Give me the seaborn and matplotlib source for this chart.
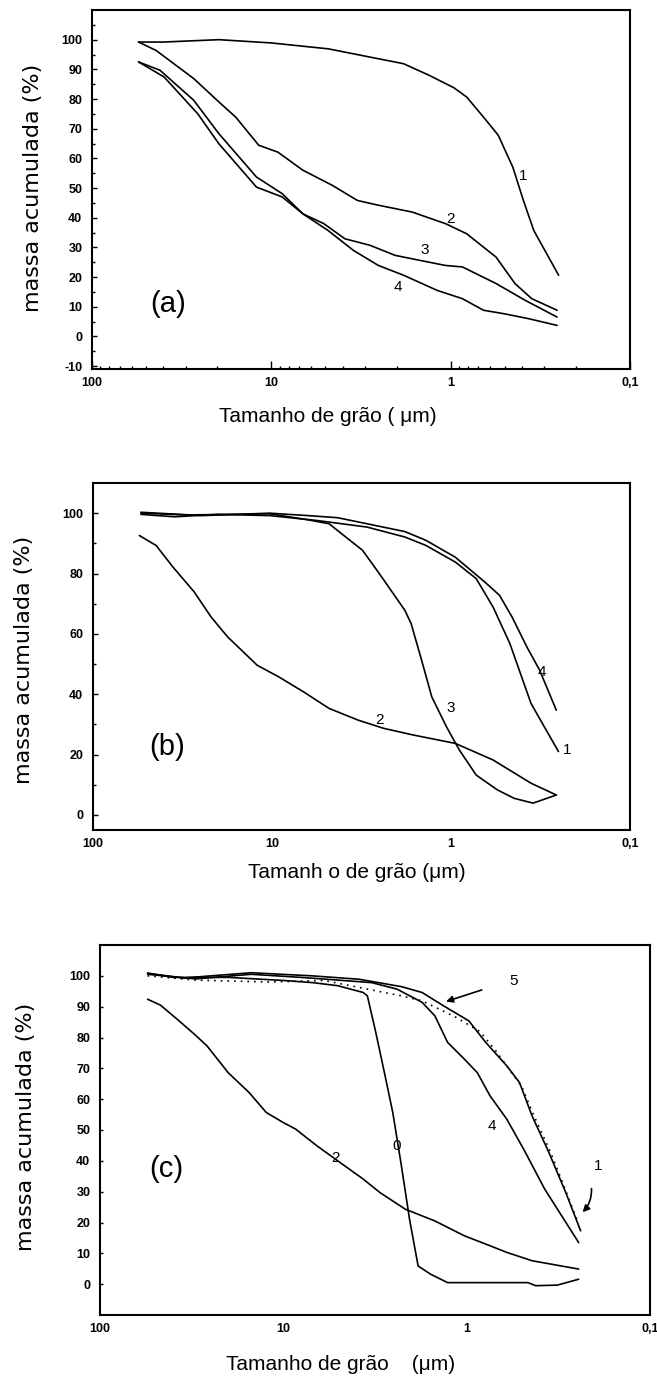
import numpy as np
import pandas as pd
import matplotlib
matplotlib.use("Agg")
import matplotlib.pyplot as plt
from matplotlib.ticker import FixedLocator, NullLocator, LogLocator
import seaborn as sns

# ---- panel (a) ----
a1_x = [55, 40, 19.6, 10, 4.8, 2.97, 1.83, 1.32, 0.96, 0.815, 0.656, 0.543, 0.45, 0.393, 0.344, 0.25]
a1_y = [99.2, 99.2, 100, 98.9, 96.9, 94.4, 91.9, 88, 83.8, 80.7, 73.9, 67.8, 57, 45.8, 35.7, 20.6]
a2_x = [55, 44, 27.1, 19.6, 15.8, 11.75, 9.2, 6.67, 4.57, 3.31, 2.53, 1.64, 1.07, 0.815, 0.558, 0.438, 0.353, 0.255]
a2_y = [99.2, 96.4, 86.9, 79, 73.9, 64.4, 62.1, 56, 50.9, 45.8, 44.2, 41.9, 38, 34.6, 26.7, 17.8, 12.7, 8.8]
a3_x = [55, 41.8, 27.1, 19.6, 12.1, 8.7, 6.67, 5.1, 3.89, 2.82, 2.04, 1.48, 1.07, 0.86, 0.558, 0.383, 0.255]
a3_y = [92.5, 89.7, 79.6, 68.3, 53.7, 48.1, 41.3, 38, 32.9, 30.7, 27.3, 25.6, 23.9, 23.4, 17.8, 12.1, 6.5]
a4_x = [55, 39.6, 25.7, 19.6, 12.1, 8.7, 6.67, 4.83, 3.49, 2.53, 1.83, 1.19, 0.86, 0.656, 0.501, 0.37, 0.255]
a4_y = [92.5, 87.4, 75, 64.9, 50.3, 47, 41.3, 35.7, 29, 23.9, 20.6, 15.5, 12.7, 8.8, 7.6, 6, 3.7]
a_labels = ["1", "2", "3", "4"]
a_label_x = [0.393, 1.0, 1.4, 1.98]
a_label_y = [54, 39.7, 29, 16.6]

# ---- panel (b) ----
b1_x = [54, 35, 20, 10.3, 5.66, 2.95, 1.81, 1.38, 0.946, 0.723, 0.582, 0.469, 0.357, 0.251]
b1_y = [99.6, 98.8, 99.6, 99.2, 97.6, 95.4, 92.1, 89.3, 83.8, 78.3, 68.9, 56.8, 36.9, 21]
b2_x = [55.1, 44.4, 35.7, 27.2, 21.9, 17.7, 12.1, 9.2, 6.67, 4.8, 3.3, 2.38, 1.63, 0.946, 0.582, 0.357, 0.258]
b2_y = [92.6, 89.3, 82.1, 73.9, 65.6, 59, 49.6, 45.8, 40.8, 35.3, 31.4, 28.7, 26.5, 23.7, 18.2, 10.5, 6.6]
b3_x = [54, 30, 10.3, 6.3, 4.8, 3.67, 3.12, 2.51, 1.81, 1.67, 1.46, 1.28, 1.06, 0.898, 0.723, 0.551, 0.444, 0.348, 0.258]
b3_y = [100, 99.4, 99.8, 97.8, 96.5, 91, 87.7, 79.9, 67.8, 63.4, 51.3, 39.1, 29.2, 21.5, 13.2, 8.3, 5.5, 3.9, 6.6]
b4_x = [54, 24.4, 10.3, 6.3, 4.3, 2.95, 1.81, 1.38, 0.946, 0.648, 0.536, 0.456, 0.377, 0.32, 0.258]
b4_y = [100.3, 99.2, 100, 99.2, 98.5, 96.5, 93.9, 91, 85.4, 77.2, 72.8, 65.6, 55.7, 48, 34.7]
b_labels = ["4", "1", "3", "2"]
b_label_x = [0.312, 0.225, 1.0, 2.51]
b_label_y = [47.4, 21.5, 35.3, 31.4]

# ---- panel (c) ----
c0_x = [55, 40, 20, 10, 6.93, 5.05, 3.67, 3.48, 3.13, 2.81, 2.53, 2.27, 2.05, 1.84, 1.57, 1.27, 0.463, 0.42, 0.32, 0.245]
c0_y = [100.9, 99.5, 99.5, 98.5, 97.8, 96.8, 94.6, 93.5, 81.6, 68.6, 55.7, 38.4, 21.1, 5.9, 3.2, 0.5, 0.5, -0.5, -0.3, 1.6]
c1_x = [55, 35, 15, 7, 3.87, 2.27, 1.75, 1.34, 0.973, 0.787, 0.604, 0.515, 0.44, 0.356, 0.288, 0.239]
c1_y = [100.8, 99.3, 101, 100, 98.9, 96.5, 94.6, 90.3, 85.4, 78.4, 70.8, 65.4, 54.6, 42.7, 29.7, 17.3]
c2_x = [55, 46.8, 37.9, 30.6, 26.1, 20, 15.4, 12.4, 10, 8.57, 6.57, 5.05, 3.67, 2.97, 2.16, 1.49, 1.03, 0.787, 0.604, 0.44, 0.245]
c2_y = [92.4, 90.5, 85.9, 81.1, 77.3, 68.6, 62.2, 55.7, 52.4, 50.3, 44.9, 40, 34.1, 29.7, 24.3, 20.5, 15.7, 13, 10.3, 7.6, 4.9]
c4_x = [55, 30, 15, 8, 3.3, 2.4, 1.75, 1.49, 1.27, 1.03, 0.875, 0.746, 0.604, 0.489, 0.375, 0.245]
c4_y = [100.5, 99.0, 100.5, 99.5, 97.8, 95.7, 91.4, 87, 78.4, 73, 68.6, 61.1, 53.5, 43.8, 30.8, 13.5]
c5_x = [55, 30, 12, 6, 3.48, 2.27, 1.75, 1.14, 0.85, 0.7, 0.6, 0.5, 0.44, 0.35, 0.3, 0.245]
c5_y = [100, 98.6, 98, 98.5, 95.7, 93.5, 91.9, 86.5, 82, 76, 70.5, 64, 56, 43, 33, 19.5]
c_labels = ["4", "0", "2"]
c_label_x = [0.728, 2.4, 5.17]
c_label_y = [51.4, 44.9, 41]

x_ticks = [100, 10, 1, 0.1]
x_ticklabels = ["100", "10", "1", "0,1"]

sns.set_style("ticks")
plt.rcParams["font.family"] = ["Liberation Sans", "DejaVu Sans"]
plt.rcParams["text.color"] = "black"
plt.rcParams["axes.labelcolor"] = "black"
plt.rcParams["xtick.color"] = "black"
plt.rcParams["ytick.color"] = "black"

W, H = 657, 1380
fig = plt.figure(figsize=(W / 100, H / 100), dpi=100)


def make_axes(left, right, top, bottom):
    return fig.add_axes([left / W, 1 - bottom / H, (right - left) / W, (bottom - top) / H])


def draw_curve(ax, xs, ys, **kw):
    df = pd.DataFrame({"d": xs, "m": ys})
    sns.lineplot(data=df, x="d", y="m", ax=ax, sort=False, estimator=None,
                 color="black", linewidth=kw.pop("lw", 1.2), **kw)


def style_axes(ax, ylim, yticks, yminor, xtick_len, xminor):
    ax.set_xscale("log")
    ax.set_xlim(100, 0.1)
    ax.set_ylim(*ylim)
    ax.xaxis.set_major_locator(FixedLocator(x_ticks))
    ax.set_xticklabels(x_ticklabels)
    if xminor:
        ax.xaxis.set_minor_locator(LogLocator(base=10, subs=np.arange(2, 10)))
    else:
        ax.xaxis.set_minor_locator(NullLocator())
    ax.yaxis.set_major_locator(FixedLocator(yticks))
    ax.set_yticklabels([str(v) for v in yticks])
    if yminor is not None:
        ax.yaxis.set_minor_locator(FixedLocator(yminor))
    ax.set_xlabel("")
    ax.set_ylabel("")
    for s in ax.spines.values():
        s.set_linewidth(1.5)
        s.set_color("black")
    ax.tick_params(axis="both", which="both", direction="in", colors="black",
                   labelsize=9, width=1.0)
    ax.tick_params(axis="y", which="major", length=3.5, pad=7)
    ax.tick_params(axis="y", which="minor", length=2.5)
    ax.tick_params(axis="x", which="major", length=xtick_len, pad=6)
    ax.tick_params(axis="x", which="minor", length=2.5)
    for t in ax.get_xticklabels() + ax.get_yticklabels():
        t.set_fontweight("bold")


lab_kw = dict(fontsize=11, ha="center", va="center", color="black")

# (a)
axa = make_axes(92, 630, 10, 369)
for xs, ys in [(a1_x, a1_y), (a2_x, a2_y), (a3_x, a3_y), (a4_x, a4_y)]:
    draw_curve(axa, xs, ys)
style_axes(axa, (-11, 110), list(range(-10, 101, 10)), list(range(-5, 106, 10)), 6, True)
for t, x, y in zip(a_labels, a_label_x, a_label_y):
    axa.text(x, y, t, **lab_kw)
axa.text(37.5, 11, "(a)", fontsize=21, ha="center", va="center")

# (b)
axb = make_axes(93, 630, 483, 830)
for xs, ys in [(b1_x, b1_y), (b2_x, b2_y), (b3_x, b3_y), (b4_x, b4_y)]:
    draw_curve(axb, xs, ys)
style_axes(axb, (-5, 110), list(range(0, 101, 20)), list(range(10, 101, 20)), 0, False)
for t, x, y in zip(b_labels, b_label_x, b_label_y):
    axb.text(x, y, t, **lab_kw)
axb.text(38.7, 22.6, "(b)", fontsize=21, ha="center", va="center")

# (c)
axc = make_axes(100, 650, 945, 1315)
for xs, ys in [(c0_x, c0_y), (c1_x, c1_y), (c2_x, c2_y), (c4_x, c4_y)]:
    draw_curve(axc, xs, ys)
draw_curve(axc, c5_x, c5_y, lw=1.2, linestyle=(0, (1, 3)))
style_axes(axc, (-10, 110), list(range(0, 101, 10)), None, 0, False)
axc.tick_params(axis="y", which="major", length=2)
for t, x, y in zip(c_labels, c_label_x, c_label_y):
    axc.text(x, y, t, **lab_kw)
axc.text(0.558, 98.4, "5", **lab_kw)
axc.annotate("", xy=(1.34, 91.4), xytext=(0.80, 95.7),
             arrowprops=dict(arrowstyle="-|>", color="black", lw=1.2, mutation_scale=10))
axc.text(0.193, 38.4, "1", **lab_kw)
axc.annotate("", xy=(0.239, 22.7), xytext=(0.209, 31.9),
             arrowprops=dict(arrowstyle="-|>", color="black", lw=1.2, mutation_scale=10,
                             connectionstyle="arc3,rad=-0.25"))
axc.text(43.3, 37.3, "(c)", fontsize=21, ha="center", va="center")

# axis titles
ylab_kw = dict(rotation=90, ha="center", va="center", fontsize=16, family="DejaVu Sans")
fig.text(33 / W, 1 - 188 / H, "massa acumulada (%)", **ylab_kw)
fig.text(24 / W, 1 - 660 / H, "massa acumulada (%)", **ylab_kw)
fig.text(26 / W, 1 - 1127 / H, "massa acumulada (%)", **ylab_kw)
xlab_kw = dict(ha="center", va="center", fontsize=15)
fig.text(328 / W, 1 - 417 / H, "Tamanho de grão ( μm)", **xlab_kw)
fig.text(357 / W, 1 - 873 / H, "Tamanh o de grão (μm)", **xlab_kw)
fig.text(341 / W, 1 - 1365 / H, "Tamanho de grão    (μm)", **xlab_kw)

fig.savefig("out.png", dpi=100)
